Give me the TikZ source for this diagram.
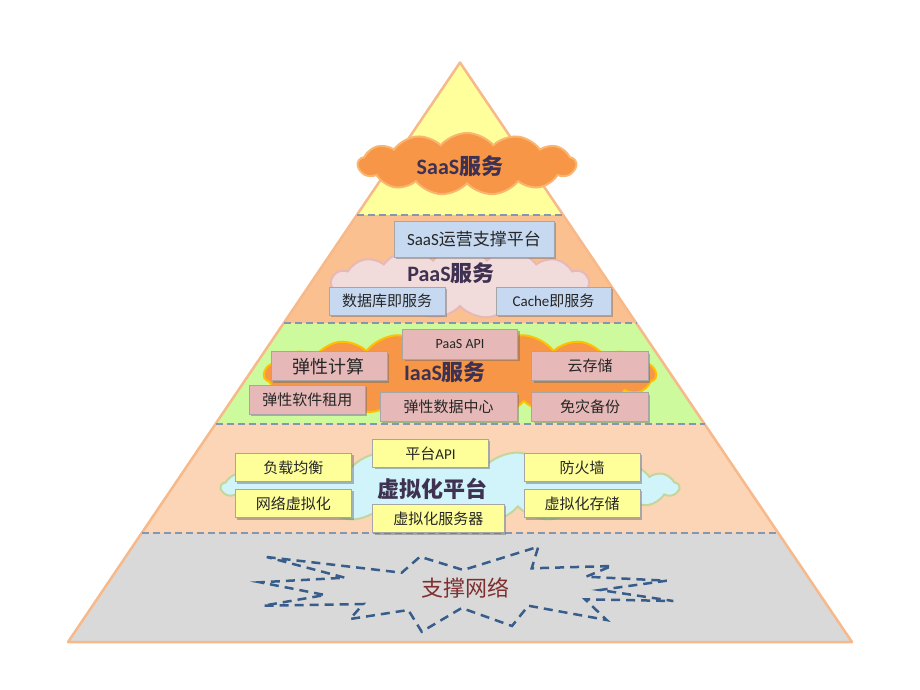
\documentclass[tikz,border=0pt]{standalone}
\usepackage{fontspec}
\setmainfont{Carlito}
\newfontfamily\cjk{Noto Sans CJK SC}
\usetikzlibrary{shapes.symbols,shadows}
\definecolor{saasfill}{HTML}{FFFF9C}
\definecolor{paasfill}{HTML}{FAC090}
\definecolor{iaasfill}{HTML}{CCFA9C}
\definecolor{virtfill}{HTML}{FBD5B5}
\definecolor{netfill}{HTML}{D9D9D9}
\definecolor{edgec}{HTML}{F7B98A}
\definecolor{sepc}{HTML}{8497B0}
\definecolor{saascf}{HTML}{F79646}
\definecolor{saascd}{HTML}{FAB56E}
\definecolor{paascf}{HTML}{F2DCDB}
\definecolor{paascd}{HTML}{E6B9B8}
\definecolor{iaascf}{HTML}{F79646}
\definecolor{iaascd}{HTML}{FFC000}
\definecolor{virtcf}{HTML}{D0F4FA}
\definecolor{virtcd}{HTML}{C3D69B}
\definecolor{bluebox}{HTML}{C6D9F1}
\definecolor{pinkbox}{HTML}{E6B9B8}
\definecolor{yellowbox}{HTML}{FFFF99}
\definecolor{boxline}{HTML}{A6A6A6}
\definecolor{titlec}{HTML}{3F3151}
\definecolor{netc}{HTML}{7F2F2F}
\definecolor{starc}{HTML}{385D8A}
\begin{document}
\begin{tikzpicture}[x=1pt,y=-1pt,
  layer/.style={draw=edgec, line width=2.5pt, line join=round},
  sepline/.style={draw=sepc, line width=2.5pt, dash pattern=on 7pt off 4pt},
  cloudshape/.style={cloud, cloud puffs=13, cloud puff arc=100, cloud ignores aspect, inner sep=0pt, line width=2pt},
  box/.style={draw=boxline, line width=0.6pt, inner sep=0pt, text=black!85,
    drop shadow={shadow xshift=2pt, shadow yshift=-2pt, opacity=0.45, fill=black!60},
    font=\fontsize{15}{18}\selectfont},
  title/.style={font=\fontsize{22}{26}\selectfont\bfseries, text=titlec, inner sep=0pt},
  starline/.style={draw=starc, line width=2.5pt, dash pattern=on 9pt off 6pt}
]
\useasboundingbox (0,0) rectangle (920,690);
% layers
\fill[saasfill] (460,62.5) -- (563.15,215) -- (356.85,215) -- cycle;
\fill[paasfill] (356.85,215) -- (563.15,215) -- (636.2,323) -- (283.8,323) -- cycle;
\fill[iaasfill] (283.8,323) -- (636.2,323) -- (704.5,424) -- (215.5,424) -- cycle;
\fill[virtfill] (215.5,424) -- (704.5,424) -- (778.2,533) -- (141.8,533) -- cycle;
\fill[netfill] (141.8,533) -- (778.2,533) -- (852,642) -- (68,642) -- cycle;
\draw[layer] (460,62.5) -- (852,642) -- (68,642) -- cycle;
\draw[sepline] (356.85,215) -- (563.15,215);
\draw[sepline] (283.8,323) -- (636.2,323);
\draw[sepline] (215.5,424) -- (704.5,424);
\draw[sepline] (141.8,533) -- (778.2,533);

% clouds
\node[cloudshape, fill=saascf, draw=saascd, cloud puffs=13, minimum width=218pt, minimum height=62pt] (saascloud) at (467,164) {};
\node[cloudshape, fill=paascf, draw=paascd, cloud puffs=15, minimum width=258pt, minimum height=70pt] (paascloud) at (460,283) {};
\node[cloudshape, fill=iaascf, draw=iaascd, cloud puffs=19, minimum width=392pt, minimum height=84pt] (iaascloud) at (460,375) {};
\node[cloudshape, fill=virtcf, draw=virtcd, cloud puffs=21, minimum width=458pt, minimum height=72pt] (virtcloud) at (450,487) {};

% titles
\node[title] (saast) at (460,166) {SaaS{\cjk 服务}};
\node[title] (paast) at (451,273) {PaaS{\cjk 服务}};
\node[title] (iaast) at (445,372) {IaaS{\cjk 服务}};
\node[title] (virtt) at (432,489) {\cjk 虚拟化平台};
\node[font=\fontsize{22}{26}\selectfont, text=netc, inner sep=0pt] (nett) at (465,588) {\cjk 支撑网络};

% PaaS boxes
\node[box, fill=bluebox, minimum width=160pt, minimum height=36pt, font=\fontsize{17}{20}\selectfont] (saasop) at (474,239) {SaaS{\cjk 运营支撑平台}};
\node[box, fill=bluebox, minimum width=116pt, minimum height=28pt] (db) at (387,301) {\cjk 数据库即服务};
\node[box, fill=bluebox, minimum width=115pt, minimum height=28pt] (cache) at (553.5,301) {Cache{\cjk 即服务}};

% IaaS boxes
\node[box, fill=pinkbox, minimum width=115pt, minimum height=30pt, font=\fontsize{14}{17}\selectfont] (paasapi) at (460,344.3) {PaaS API};
\node[box, fill=pinkbox, minimum width=116pt, minimum height=29pt, font=\fontsize{18}{21}\selectfont] (tanxing) at (328.8,366.2) {\cjk 弹性计算};
\node[box, fill=pinkbox, minimum width=116.6pt, minimum height=29pt] (yun) at (590,366.2) {\cjk 云存储};
\node[box, fill=pinkbox, minimum width=116pt, minimum height=29pt] (rent) at (307.3,399.7) {\cjk 弹性软件租用};
\node[box, fill=pinkbox, minimum width=137.3pt, minimum height=28.3pt] (dc) at (448.7,406.8) {\cjk 弹性数据中心};
\node[box, fill=pinkbox, minimum width=116.6pt, minimum height=28.3pt] (backup) at (590,406.8) {\cjk 免灾备份};

% virtualization boxes
\node[box, fill=yellowbox, minimum width=115.6pt, minimum height=28pt] (api) at (430.5,453.3) {{\cjk 平台}API};
\node[box, fill=yellowbox, minimum width=116.7pt, minimum height=28.4pt] (lb) at (293.3,467.5) {\cjk 负载均衡};
\node[box, fill=yellowbox, minimum width=115.7pt, minimum height=28.4pt] (fw) at (582.2,467.5) {\cjk 防火墙};
\node[box, fill=yellowbox, minimum width=116.7pt, minimum height=28.7pt] (netv) at (293.3,503.3) {\cjk 网络虚拟化};
\node[box, fill=yellowbox, minimum width=115.7pt, minimum height=28.7pt] (storv) at (582.2,503.3) {\cjk 虚拟化存储};
\node[box, fill=yellowbox, minimum width=131.3pt, minimum height=28.7pt] (serv) at (438.3,518.3) {\cjk 虚拟化服务器};

% network star
\draw[starline] (266.7,557) -- (401.7,572.7) -- (420,556.7) -- (463.3,570) -- (538.3,546.7) -- (531.7,568.3) -- (611.7,566) -- (586,576.7) -- (666.7,580.7) -- (600,590) -- (673.3,601) -- (585,599.3) -- (606.7,620) -- (528.3,605.7) -- (512,626) -- (461.7,608) -- (421.7,631.7) -- (408.3,610) -- (350,619) -- (363.3,604) -- (263.3,605.7) -- (325,595) -- (260,582.3) -- (345,577.7) -- cycle;
\end{tikzpicture}
\end{document}
